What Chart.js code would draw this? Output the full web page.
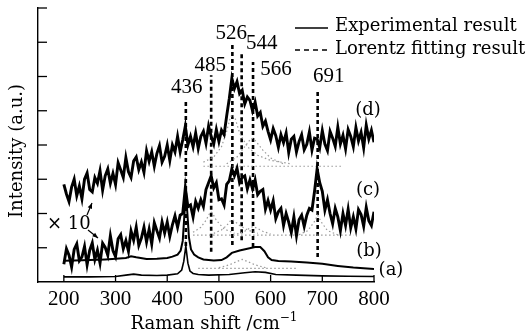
<!DOCTYPE html>
<html>
<head>
<meta charset="utf-8">
<script src="https://cdn.jsdelivr.net/npm/chart.js@4.4.1/dist/chart.umd.min.js"></script>
<style>
  html, body { margin: 0; padding: 0; background: #fff; }
  #wrap { width: 527px; height: 331px; }
</style>
</head>
<body>
<div id="wrap"><canvas id="raman" width="527" height="331"></canvas></div>
<script>
// sampling grid of the two magnified (x10) spectra, cm^-1
const gridX = [
  200,205,210,215,220,225,230,235,240,245,250,255,260,265,270,275,280,285,290,295,
  300,305,310,315,320,325,330,335,340,345,350,355,360,365,370,375,380,385,390,395,
  400,405,410,415,420,425,430,435,440,445,450,455,460,465,470,475,480,485,490,495,
  500,505,510,515,520,525,530,535,540,545,550,555,560,565,570,575,580,585,590,595,
  600,605,610,615,620,625,630,635,640,645,650,655,660,665,670,675,680,685,690,695,
  700,705,710,715,720,725,730,735,740,745,750,755,760,765,770,775,780,785,790,795,
  800
];

// (d) experimental
const curveD = [
  2.85,2.57,2.35,2.77,3.00,2.52,2.80,2.43,3.00,3.18,2.70,2.63,3.05,2.88,3.25,2.68,3.10,3.30,2.88,3.17,
  2.85,3.48,3.27,3.05,3.63,3.22,3.05,3.53,3.65,3.28,3.50,3.20,3.83,3.52,3.80,3.38,3.75,3.98,3.50,3.67,
  4.00,3.55,4.00,3.80,4.25,3.80,4.15,4.55,4.00,4.25,3.95,4.35,3.90,4.25,4.40,4.05,4.55,4.25,4.03,4.45,
  4.10,4.43,4.30,4.85,5.35,5.95,5.65,5.85,5.50,5.60,5.20,5.40,5.30,5.00,5.25,4.85,4.95,4.55,4.70,4.40,
  4.15,4.48,4.27,3.93,4.30,4.07,4.35,3.78,4.17,4.25,3.80,4.10,4.30,3.86,4.02,4.38,3.85,4.20,4.17,3.92,
  4.42,4.03,3.84,4.40,4.20,3.96,4.52,4.03,4.28,3.89,4.45,4.25,3.95,4.51,4.12,4.37,3.92,4.58,4.18,4.43,
  4.08
];

// (c) experimental
const curveC = [
  0.52,0.97,0.78,0.44,0.95,1.11,0.62,0.73,1.04,0.50,0.92,1.14,0.66,0.93,0.55,1.13,1.01,0.78,1.35,0.92,
  0.74,1.26,1.38,0.97,1.21,0.90,1.49,1.22,1.60,1.07,1.28,1.60,1.17,1.54,1.11,1.73,1.50,1.28,1.75,1.43,
  1.75,1.33,1.67,1.93,1.60,1.95,2.00,2.75,2.20,2.25,1.90,2.35,2.15,2.40,2.20,2.70,2.90,3.10,2.75,2.90,
  2.40,2.43,2.25,2.85,2.95,3.30,3.10,3.32,2.90,3.05,3.10,2.72,2.98,2.72,2.98,2.55,2.65,2.70,2.13,2.38,
  2.10,2.37,1.85,2.05,2.15,1.65,2.00,1.75,1.45,1.90,1.35,1.82,1.95,1.62,1.95,2.15,2.10,2.65,3.30,2.90,
  2.65,2.10,2.40,2.00,1.70,2.15,1.90,1.50,2.00,1.65,2.12,1.58,1.90,1.55,2.11,1.97,1.63,2.18,1.79,1.65,
  2.05
];

// (b) and (a), not magnified
const curveBX = [200,220,250,280,300,320,330,340,360,380,400,410,420,426,430,433,436,439,442,446,452,460,470,490,505,515,525,540,555,570,580,588,595,602,615,640,670,700,730,760,800];
const curveBY = [0.62,0.63,0.64,0.66,0.68,0.70,0.75,0.72,0.67,0.68,0.70,0.74,0.80,0.92,1.20,1.90,2.65,2.00,1.30,0.95,0.80,0.72,0.66,0.63,0.64,0.72,0.85,0.92,0.97,1.02,1.02,0.90,0.72,0.64,0.61,0.60,0.57,0.53,0.47,0.42,0.38];
const curveAX = [200,250,300,320,335,350,380,400,420,428,432,436,440,444,450,460,480,520,550,570,590,610,650,700,750,800];
const curveAY = [0.15,0.15,0.16,0.20,0.23,0.20,0.19,0.20,0.24,0.35,0.60,1.05,0.55,0.32,0.25,0.22,0.20,0.22,0.27,0.30,0.28,0.22,0.20,0.18,0.17,0.16];

// Lorentz components (dotted)
const fits = [
  [[470,490,505,515,522,526,532,540,555,575,600,640], [3.50,3.65,3.95,4.40,4.80,4.90,4.75,4.35,3.95,3.70,3.55,3.45]],
  [[515,535,550,560,566,572,585,600,625], [3.45,3.65,3.95,4.15,4.20,4.10,3.85,3.62,3.45]],
  [[470,740], [3.38,3.38]],
  [[450,465,475,482,485,488,495,510,530], [1.45,1.60,1.80,2.00,2.05,2.00,1.80,1.55,1.42]],
  [[490,505,515,522,526,530,540,555,575], [1.42,1.52,1.65,1.78,1.82,1.78,1.65,1.52,1.42]],
  [[535,550,560,566,572,585,600], [1.40,1.48,1.58,1.62,1.58,1.48,1.40]],
  [[655,672,684,691,698,710,730], [1.38,1.50,1.75,1.95,1.75,1.50,1.38]],
  [[450,760], [1.37,1.37]],
  [[500,520,535,545,555,570,590], [0.42,0.50,0.60,0.66,0.60,0.50,0.42]],
  [[460,650], [0.40,0.40]]
];

// peak markers
const peakPos = [436, 485, 526, 544, 566, 691];
const peakTop = [5.26, 6.04, 6.92, 6.72, 6.42, 5.55];
const peakBottom = [1.05, 0.88, 1.08, 1.22, 1.02, 0.73];
const peakLabels = ['436', '485', '526', '544', '566', '691'];
const peakLabelShift = [[1, -14], [-1, -10], [-1, -12], [20, -8], [23, 7], [11, -15]];

const xTicks = [200, 300, 400, 500, 600, 700, 800];
const yTicks = [1, 2, 3, 4, 5, 6, 7, 8];

const numFont = '21px "Liberation Serif", serif';
const textFont = '18px "DejaVu Serif", serif';

function pairs(xs, ys) {
  return xs.map((x, i) => ({ x: x, y: ys[i] }));
}

const datasets = [];
datasets.push({ data: pairs(gridX, curveD), borderColor: '#000', borderWidth: 2.9 });
datasets.push({ data: pairs(gridX, curveC), borderColor: '#000', borderWidth: 2.9 });
datasets.push({ data: pairs(curveBX, curveBY), borderColor: '#000', borderWidth: 2 });
datasets.push({ data: pairs(curveAX, curveAY), borderColor: '#000', borderWidth: 1.6 });
fits.forEach(f => {
  datasets.push({ data: pairs(f[0], f[1]), borderColor: '#9a9a9a', borderWidth: 1.2, borderDash: [1.5, 2.5] });
});
peakPos.forEach((p, i) => {
  datasets.push({ data: [{ x: p, y: peakBottom[i] }, { x: p, y: peakTop[i] }], borderColor: '#000', borderWidth: 2.6, borderDash: [4, 3] });
});

function seg(ctx, x1, y1, x2, y2) {
  ctx.beginPath();
  ctx.moveTo(x1, y1);
  ctx.lineTo(x2, y2);
  ctx.stroke();
}

function arrow(ctx, x1, y1, x2, y2) {
  seg(ctx, x1, y1, x2, y2);
  const a = Math.atan2(y2 - y1, x2 - x1);
  ctx.beginPath();
  ctx.moveTo(x2, y2);
  ctx.lineTo(x2 - 6 * Math.cos(a - 0.4), y2 - 6 * Math.sin(a - 0.4));
  ctx.lineTo(x2 - 6 * Math.cos(a + 0.4), y2 - 6 * Math.sin(a + 0.4));
  ctx.closePath();
  ctx.fill();
}

const decorations = {
  id: 'decorations',
  afterDraw(chart) {
    const ctx = chart.ctx;
    const x = chart.scales.x, y = chart.scales.y;
    ctx.save();
    ctx.strokeStyle = '#000';
    ctx.fillStyle = '#000';
    ctx.lineWidth = 1.3;

    // inward tick marks
    xTicks.forEach(v => {
      const px = x.getPixelForValue(v);
      seg(ctx, px, y.bottom, px, y.bottom - 7);
    });
    yTicks.forEach(v => {
      const py = y.getPixelForValue(v);
      seg(ctx, x.left, py, x.left + 9, py);
    });

    // peak labels
    ctx.font = numFont;
    ctx.textAlign = 'center';
    ctx.textBaseline = 'middle';
    peakPos.forEach((p, i) => {
      const px = x.getPixelForValue(p) + peakLabelShift[i][0];
      const py = y.getPixelForValue(peakTop[i]) + peakLabelShift[i][1];
      ctx.fillText(peakLabels[i], px, py);
    });

    // curve tags
    ctx.font = textFont;
    ctx.fillText('(d)', 368, 110);
    ctx.fillText('(c)', 368, 190);
    ctx.fillText('(b)', 369, 251);
    ctx.fillText('(a)', 391, 270);

    // x10 note with arrows
    ctx.textAlign = 'left';
    ctx.fillText('\u00d7 10', 47, 224);
    ctx.lineWidth = 1.2;
    arrow(ctx, 87, 215, 92, 203);
    arrow(ctx, 88, 230, 98, 238);

    // legend
    ctx.lineWidth = 1.3;
    seg(ctx, 295, 28, 328, 28);
    ctx.setLineDash([5, 4]);
    seg(ctx, 295, 50, 328, 50);
    ctx.setLineDash([]);
    ctx.fillText('Experimental result', 335, 26);
    ctx.fillText('Lorentz fitting result', 335, 49);

    // axis titles
    ctx.textAlign = 'center';
    ctx.textBaseline = 'alphabetic';
    const main = 'Raman shift /cm';
    const wMain = ctx.measureText(main).width;
    ctx.font = '12px "DejaVu Serif", serif';
    const wSup = ctx.measureText('\u22121').width;
    const left = 214 - (wMain + wSup) / 2;
    ctx.textAlign = 'left';
    ctx.font = textFont;
    ctx.fillText(main, left, 329);
    ctx.font = '12px "DejaVu Serif", serif';
    ctx.fillText('\u22121', left + wMain, 321);

    ctx.font = textFont;
    ctx.textAlign = 'center';
    ctx.textBaseline = 'middle';
    ctx.translate(17, 151);
    ctx.rotate(-Math.PI / 2);
    ctx.fillText('Intensity (a.u.)', 0, 0);
    ctx.restore();
  }
};

new Chart(document.getElementById('raman'), {
  type: 'line',
  data: { datasets: datasets },
  options: {
    responsive: false,
    animation: false,
    devicePixelRatio: 1,
    layout: { padding: { left: 0, top: 8, right: 153, bottom: 0 } },
    elements: { point: { radius: 0 }, line: { tension: 0, fill: false } },
    plugins: { legend: { display: false }, tooltip: { enabled: false } },
    scales: {
      x: {
        type: 'linear',
        min: 150,
        max: 800,
        afterBuildTicks: s => { s.ticks = xTicks.map(v => ({ value: v })); },
        afterFit: s => { s.height = 49; },
        grid: { display: false, drawTicks: false },
        border: { display: true, color: '#000', width: 1.4 },
        ticks: { color: '#000', font: { family: '"Liberation Serif", serif', size: 21 }, padding: 5, maxRotation: 0 }
      },
      y: {
        type: 'linear',
        min: 0,
        max: 8,
        afterFit: s => { s.width = 38; },
        grid: { display: false, drawTicks: false },
        border: { display: true, color: '#000', width: 1.4 },
        ticks: { display: false }
      }
    }
  },
  plugins: [decorations]
});
</script>
</body>
</html>
